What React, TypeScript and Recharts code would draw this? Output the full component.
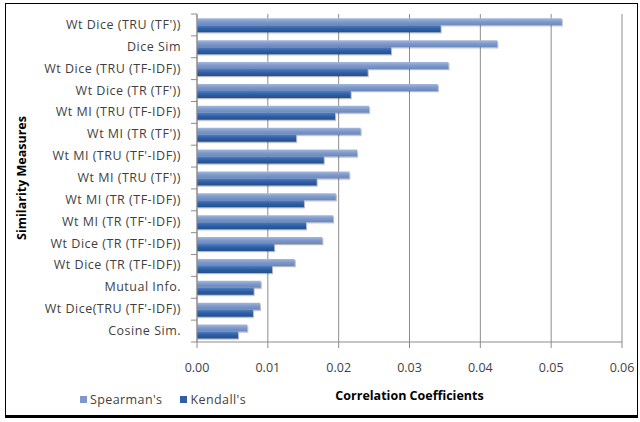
import { Bar, BarChart, CartesianGrid, Label, XAxis, YAxis } from 'recharts';

const measures = [
    "Wt Dice (TRU (TF'))",
    'Dice Sim',
    'Wt Dice (TRU (TF-IDF))',
    "Wt Dice (TR (TF'))",
    'Wt MI (TRU (TF-IDF))',
    "Wt MI (TR (TF'))",
    "Wt MI (TRU (TF'-IDF))",
    "Wt MI (TRU (TF'))",
    'Wt MI (TR (TF-IDF))',
    "Wt MI (TR (TF'-IDF))",
    "Wt Dice (TR (TF'-IDF))",
    'Wt Dice (TR (TF-IDF))',
    'Mutual Info.',
    "Wt Dice(TRU (TF'-IDF))",
    'Cosine Sim.',
];

const spearman = [
    0.0515, 0.0424, 0.0355, 0.034, 0.0243, 0.0231, 0.0226, 0.0215, 0.0196, 0.0192, 0.0177, 0.0138,
    0.009, 0.0089, 0.0071,
];

const kendall = [
    0.0344, 0.0274, 0.0241, 0.0217, 0.0195, 0.014, 0.0179, 0.0169, 0.0151, 0.0154, 0.0109, 0.0106,
    0.008, 0.0079, 0.0058,
];

const xTicks = [0, 0.01, 0.02, 0.03, 0.04, 0.05, 0.06];

const series = [
    { key: 'spearman', label: "Spearman's", color: '#7d98c9', fill: 'url(#gradSpearman)' },
    { key: 'kendall', label: "Kendall's", color: '#2f5ea5', fill: 'url(#gradKendall)' },
];

const data = measures.map((name, i) => ({ name, spearman: spearman[i], kendall: kendall[i] }));

const TOP = 14;
const PLOT_H = 328;
const BAND = PLOT_H / measures.length;
const FONT = "'Open Sans', 'Noto Sans', sans-serif";
const TEXT = '#3f3f3f';

// category label plus a tick mark on the band boundary above it
function MeasureTick(props: any) {
    const { x, y, payload, index } = props;
    const last = index === measures.length - 1;
    return (
        <g>
            <line x1={x + 2} x2={x + 8} y1={y - BAND / 2} y2={y - BAND / 2} stroke="#8c8c8c" />
            {last && <line x1={x + 2} x2={x + 8} y1={y + BAND / 2} y2={y + BAND / 2} stroke="#8c8c8c" />}
            <text
                x={x - 8}
                y={y}
                dy={4}
                textAnchor="end"
                fontSize={12.5}
                letterSpacing={0.5}
                fill={TEXT}
                fontFamily={FONT}
            >
                {payload.value}
            </text>
        </g>
    );
}

function SeriesLegend() {
    return (
        <div
            style={{
                position: 'absolute',
                left: 80,
                top: 391,
                display: 'flex',
                gap: 18,
                fontSize: 12.5,
                letterSpacing: 0.4,
                fontFamily: FONT,
                color: TEXT,
            }}
        >
            {series.map((s) => (
                <span key={s.key} style={{ display: 'flex', alignItems: 'center', gap: 3 }}>
                    <span style={{ width: 7, height: 7, background: s.color, display: 'inline-block' }} />
                    {s.label}
                </span>
            ))}
        </div>
    );
}

export default function App() {
    return (
        <div style={{ position: 'absolute', left: 0, top: 0, width: 640, height: 422, background: '#fff' }}>
            <div
                style={{
                    position: 'absolute',
                    left: 5,
                    top: 3,
                    width: 631,
                    height: 411,
                    border: '1.5px solid #000',
                    borderBottomWidth: 3,
                }}
            />
            <BarChart
                width={640}
                height={422}
                data={data}
                layout="vertical"
                margin={{ top: TOP, right: 18, bottom: 10, left: 0 }}
                barCategoryGap="20%"
                barGap={0}
                style={{ position: 'absolute', left: 0, top: 0, fontFamily: FONT }}
            >
                <defs>
                    <linearGradient id="gradSpearman" x1="0" y1="0" x2="0" y2="1">
                        <stop offset="0%" stopColor="#a3b8db" />
                        <stop offset="50%" stopColor="#7d98c9" />
                        <stop offset="100%" stopColor="#6a88bf" />
                    </linearGradient>
                    <linearGradient id="gradKendall" x1="0" y1="0" x2="0" y2="1">
                        <stop offset="0%" stopColor="#4f7ebf" />
                        <stop offset="50%" stopColor="#2f5ea5" />
                        <stop offset="100%" stopColor="#24508f" />
                    </linearGradient>
                    <filter id="barShadow" x="-5%" y="-30%" width="110%" height="180%">
                        <feDropShadow dx="1" dy="1.2" stdDeviation="0.7" floodColor="#000" floodOpacity="0.28" />
                    </filter>
                </defs>
                <CartesianGrid horizontal={false} stroke="#8c8c8c" />
                <XAxis
                    type="number"
                    domain={[0, 0.06]}
                    ticks={xTicks}
                    tickFormatter={(v: number) => v.toFixed(2)}
                    stroke="#8c8c8c"
                    tickSize={6}
                    tickMargin={15}
                    height={70}
                    tick={{ fill: TEXT, fontSize: 12.5, fontFamily: FONT }}
                >
                    <Label
                        value="Correlation Coefficients"
                        position="insideBottom"
                        offset={12}
                        style={{ fill: '#000', fontSize: 12.5, fontWeight: 'bold', fontFamily: FONT }}
                    />
                </XAxis>
                <YAxis
                    type="category"
                    dataKey="name"
                    width={197}
                    stroke="#8c8c8c"
                    tickLine={false}
                    interval={0}
                    tick={<MeasureTick />}
                >
                    <Label
                        value="Similarity Measures"
                        angle={-90}
                        position="insideLeft"
                        offset={22}
                        style={{ fill: '#000', fontSize: 12.5, fontWeight: 'bold', fontFamily: FONT, textAnchor: 'middle' }}
                    />
                </YAxis>
                {series.map((s) => (
                    <Bar
                        key={s.key}
                        dataKey={s.key}
                        name={s.label}
                        fill={s.fill}
                        filter="url(#barShadow)"
                        isAnimationActive={false}
                    />
                ))}
            </BarChart>
            <SeriesLegend />
        </div>
    );
}
